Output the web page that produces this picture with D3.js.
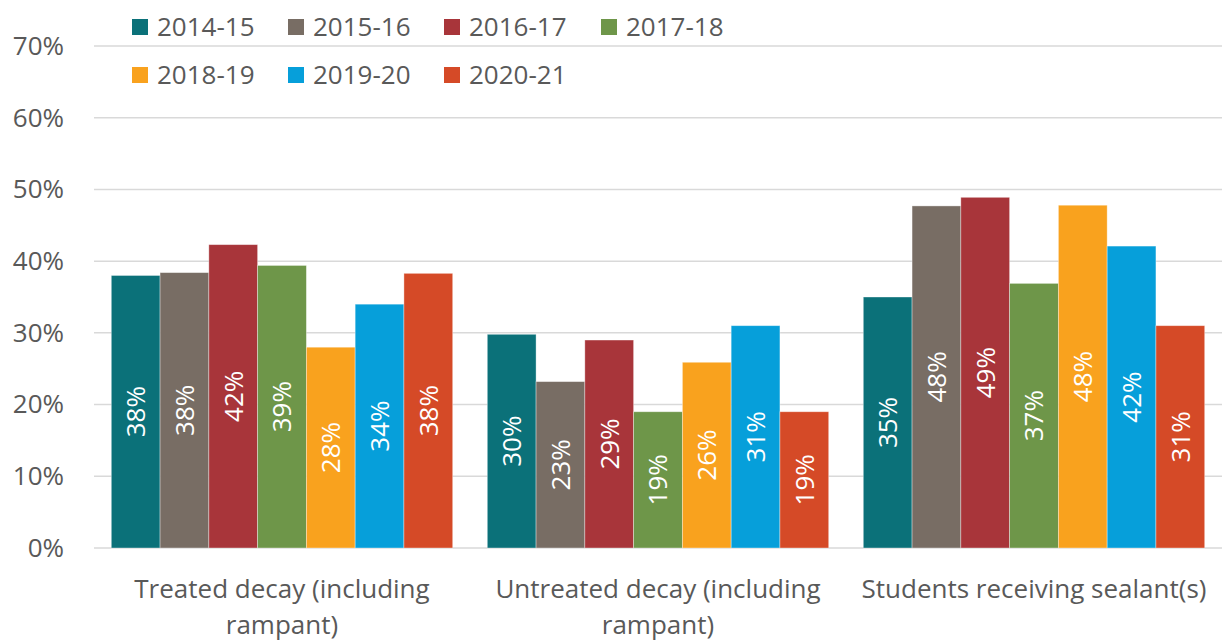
<!DOCTYPE html>
<html>
<head>
<meta charset="utf-8">
<script src="https://cdn.jsdelivr.net/npm/d3@7"></script>
<style>
  body { margin: 0; background: #fff; }
  text { font-family: "Open Sans", "Noto Sans", sans-serif; }
</style>
</head>
<body>
<div id="chart"></div>
<script>
// chart data
const categories = ["Treated decay (including rampant)", "Untreated decay (including rampant)", "Students receiving sealant(s)"];
const categoryLines = [["Treated decay (including", "rampant)"], ["Untreated decay (including", "rampant)"], ["Students receiving sealant(s)"]];
const years = ["2014-15", "2015-16", "2016-17", "2017-18", "2018-19", "2019-20", "2020-21"];
const colors = ["#0b7179", "#786d64", "#a8353a", "#6e9649", "#f9a21e", "#069fda", "#d54a27"];
const treated = [0.380, 0.384, 0.423, 0.394, 0.280, 0.340, 0.383];
const untreated = [0.298, 0.232, 0.290, 0.190, 0.259, 0.310, 0.190];
const sealants = [0.350, 0.477, 0.489, 0.369, 0.478, 0.421, 0.310];
const yTicks = [0, 0.1, 0.2, 0.3, 0.4, 0.5, 0.6, 0.7];

const seriesByCat = [treated, untreated, sealants];

const width = 1225, height = 642;
const margin = {top: 46, right: 3, bottom: 94, left: 94};

const svg = d3.select("#chart").append("svg")
    .attr("width", width)
    .attr("height", height);

const x0 = d3.scaleBand().domain(categories)
    .range([margin.left, width - margin.right])
    .paddingInner(0.092).paddingOuter(0.046);
const x1 = d3.scaleBand().domain(years).range([0, x0.bandwidth()]);
const y = d3.scaleLinear().domain([0, 0.7]).range([height - margin.bottom, margin.top]);

// gridlines
svg.append("g")
  .selectAll("line")
  .data(yTicks)
  .enter()
  .append("line")
    .attr("x1", margin.left)
    .attr("x2", width - margin.right)
    .attr("y1", d => y(d))
    .attr("y2", d => y(d))
    .attr("stroke", "#d9d9d9")
    .attr("stroke-width", 1.5);

// y axis labels
const yAxis = svg.append("g")
    .attr("transform", `translate(${margin.left - 30},0)`)
    .call(d3.axisLeft(y).tickValues(yTicks).tickFormat(d3.format(".0%")).tickSize(0).tickPadding(0));
yAxis.select(".domain").remove();
yAxis.selectAll("text")
    .style("font-family", "'Open Sans', sans-serif")
    .style("font-size", "26px")
    .attr("fill", "#595959");

// bars
const groups = svg.append("g")
  .selectAll("g")
  .data(categories)
  .enter()
  .append("g")
    .attr("transform", d => `translate(${x0(d)},0)`);

groups.selectAll("rect")
  .data((c, i) => seriesByCat[i].map((v, j) => ({year: years[j], value: v, color: colors[j]})))
  .enter()
  .append("rect")
    .attr("x", d => x1(d.year))
    .attr("y", d => y(d.value))
    .attr("width", x1.bandwidth())
    .attr("height", d => y(0) - y(d.value))
    .attr("fill", d => d.color)
    .attr("stroke", "#ffffff")
    .attr("stroke-opacity", 0.45)
    .attr("stroke-width", 0.8);

// value labels, rotated
groups.selectAll("text.val")
  .data((c, i) => seriesByCat[i].map((v, j) => ({year: years[j], value: v})))
  .enter()
  .append("text")
    .attr("class", "val")
    .attr("transform", d => `translate(${x1(d.year) + x1.bandwidth() / 2},${(y(d.value) + y(0)) / 2})rotate(-90)`)
    .attr("text-anchor", "middle")
    .attr("dy", "0.36em")
    .attr("fill", "#ffffff")
    .style("font-size", "26px")
    .text(d => d3.format(".0%")(d.value));

// category labels
svg.append("g")
  .selectAll("text")
  .data(categories)
  .enter()
  .append("text")
    .attr("x", d => x0(d) + x0.bandwidth() / 2)
    .attr("y", 598)
    .attr("text-anchor", "middle")
    .attr("fill", "#595959")
    .style("font-size", "26px")
  .selectAll("tspan")
  .data((d, i) => categoryLines[i].map(l => ({line: l, cx: x0(d) + x0.bandwidth() / 2})))
  .enter()
  .append("tspan")
    .attr("x", d => d.cx)
    .attr("dy", (d, i) => i === 0 ? 0 : 36)
    .text(d => d.line);

// legend
const legendCols = [132, 288, 444, 601];
const legendRows = [27, 75];
const legend = svg.append("g")
  .selectAll("g")
  .data(years)
  .enter()
  .append("g")
    .attr("transform", (d, i) => `translate(${legendCols[i % 4]},${legendRows[Math.floor(i / 4)]})`);

legend.append("rect")
    .attr("x", 0)
    .attr("y", -8)
    .attr("width", 16)
    .attr("height", 16)
    .attr("fill", (d, i) => colors[i]);

legend.append("text")
    .attr("x", 25)
    .attr("y", 0)
    .attr("dy", "0.35em")
    .attr("fill", "#595959")
    .style("font-size", "26px")
    .text(d => d);
</script>
</body>
</html>
